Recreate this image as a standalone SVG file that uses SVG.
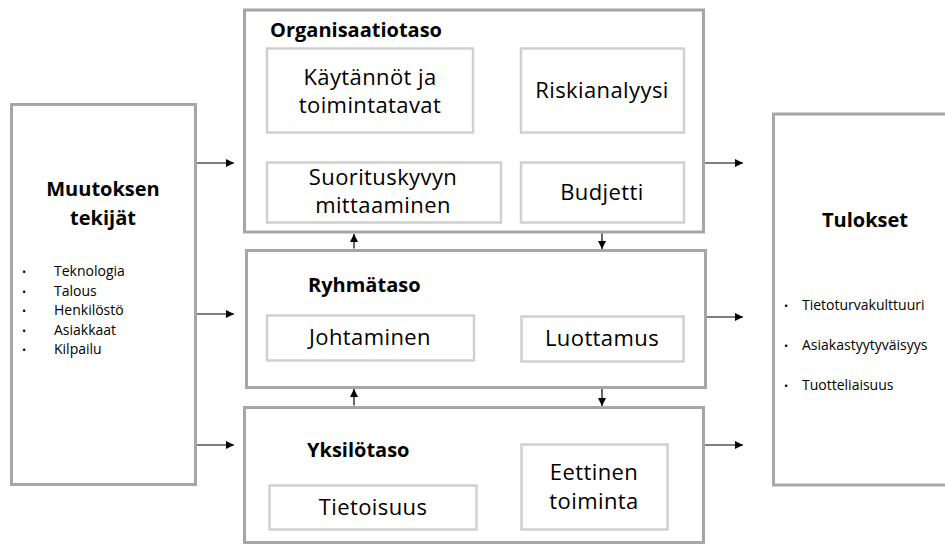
<svg xmlns="http://www.w3.org/2000/svg" width="945" height="545" viewBox="0 0 945 545">
<style>
.outer{fill:#fff;stroke:#a6a6a6;stroke-width:3}
.inner{fill:#fff;stroke:#d0d0d0;stroke-width:2.5}
text{font-family:"Open Sans","Noto Sans","Liberation Sans",sans-serif;fill:#000}
.h{font-weight:bold;font-size:20px}
.t{font-size:22px;letter-spacing:0.4px;text-anchor:middle}
.b{font-size:14px}
.d{font-size:11px}
.c{text-anchor:middle}
.conn line{stroke:#000;stroke-width:1.2;marker-end:url(#ah)}
</style>
<defs>
<marker id="ah" viewBox="0 0 10 10" refX="10" refY="5" markerWidth="8" markerHeight="8" markerUnits="userSpaceOnUse" orient="auto">
<path d="M0,0 L10,5 L0,10 z" fill="#000"/>
</marker>
</defs>
<rect width="945" height="545" fill="#fff"/>

<g id="muutoksen">
<rect class="outer" x="11.5" y="104.5" width="184" height="380"/>
<text class="h c" x="103" y="196" font-size="22">Muutoksen</text>
<text class="h c" x="103" y="225" font-size="22">tekijät</text>
<g class="d">
<text x="22" y="276">•</text>
<text x="22" y="295.5">•</text>
<text x="22" y="315">•</text>
<text x="22" y="334.5">•</text>
<text x="22" y="354">•</text>
</g>
<g class="b">
<text x="54" y="276">Teknologia</text>
<text x="54" y="295.5">Talous</text>
<text x="54" y="315">Henkilöstö</text>
<text x="54" y="334.5">Asiakkaat</text>
<text x="54" y="354">Kilpailu</text>
</g>
</g>

<g id="organisaatiotaso">
<rect class="outer" x="244.5" y="10" width="459" height="222"/>
<text class="h" x="270" y="37">Organisaatiotaso</text>
<g id="kaytannot">
<rect class="inner" x="267" y="48.5" width="206" height="84"/>
<text class="t" x="370" y="85">Käytännöt ja</text>
<text class="t" x="370" y="113">toimintatavat</text>
</g>
<g id="riskianalyysi">
<rect class="inner" x="521" y="48.5" width="163" height="84"/>
<text class="t" x="602" y="98">Riskianalyysi</text>
</g>
<g id="suorituskyky">
<rect class="inner" x="267" y="162.5" width="234" height="60"/>
<text class="t" x="383" y="185">Suorituskyvyn</text>
<text class="t" x="383" y="213">mittaaminen</text>
</g>
<g id="budjetti">
<rect class="inner" x="521" y="162.5" width="163" height="60"/>
<text class="t" x="602" y="200">Budjetti</text>
</g>
</g>

<g id="ryhmataso">
<rect class="outer" x="246.5" y="250.5" width="459" height="137"/>
<text class="h" x="308" y="292">Ryhmätaso</text>
<g id="johtaminen">
<rect class="inner" x="267" y="315.5" width="207" height="45"/>
<text class="t" x="370" y="345">Johtaminen</text>
</g>
<g id="luottamus">
<rect class="inner" x="521.5" y="316.5" width="162" height="45"/>
<text class="t" x="602" y="346">Luottamus</text>
</g>
</g>

<g id="yksilotaso">
<rect class="outer" x="244.5" y="407.5" width="459" height="135"/>
<text class="h" x="307" y="457">Yksilötaso</text>
<g id="tietoisuus">
<rect class="inner" x="269.5" y="485.5" width="207" height="44"/>
<text class="t" x="373" y="515">Tietoisuus</text>
</g>
<g id="eettinen">
<rect class="inner" x="521.5" y="444.5" width="146" height="85"/>
<text class="t" x="594" y="480">Eettinen</text>
<text class="t" x="594" y="509">toiminta</text>
</g>
</g>

<g id="tulokset">
<rect class="outer" x="773.5" y="114" width="175" height="371"/>
<text class="h c" x="865" y="227" font-size="21">Tulokset</text>
<g class="d">
<text x="784" y="310">•</text>
<text x="784" y="350">•</text>
<text x="784" y="390">•</text>
</g>
<g class="b">
<text x="802" y="310">Tietoturvakulttuuri</text>
<text x="802" y="350">Asiakastyytyväisyys</text>
<text x="802" y="390">Tuotteliaisuus</text>
</g>
</g>

<g class="conn">
<line x1="197" y1="163" x2="234" y2="163"/>
<line x1="197" y1="314" x2="234" y2="314"/>
<line x1="197" y1="445" x2="234" y2="445"/>
<line x1="705" y1="163" x2="743" y2="163"/>
<line x1="707" y1="317" x2="743" y2="317"/>
<line x1="705" y1="445" x2="743" y2="445"/>
<line x1="354" y1="248.5" x2="354" y2="234"/>
<line x1="602" y1="233.5" x2="602" y2="249"/>
<line x1="354" y1="405.5" x2="354" y2="389"/>
<line x1="602" y1="389" x2="602" y2="406"/>
</g>
</svg>
